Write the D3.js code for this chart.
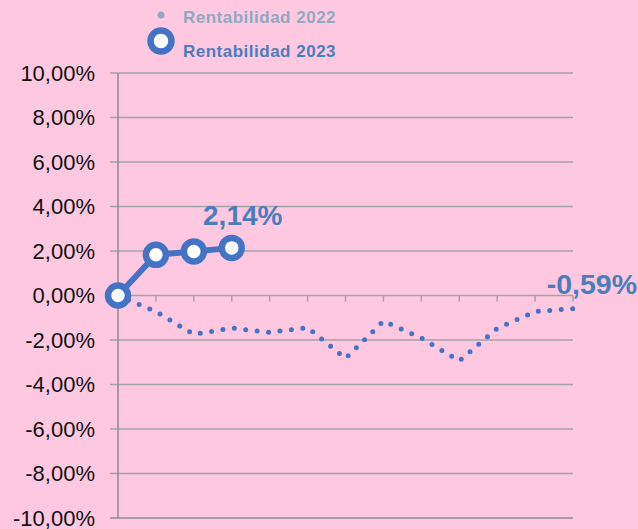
<!DOCTYPE html>
<html>
<head>
<meta charset="utf-8">
<script src="https://cdn.jsdelivr.net/npm/d3@7"></script>
<style>
  body { margin: 0; background: #ffc8e1; }
  svg { display: block; font-family: "Liberation Sans", Arial, sans-serif; }
</style>
</head>
<body>
<svg id="chart" width="638" height="529"></svg>
<script>
// categories: starting point + 12 months (not labelled on the chart)
const months = ["Inicio", "Ene", "Feb", "Mar", "Abr", "May", "Jun", "Jul", "Ago", "Sep", "Oct", "Nov", "Dic"];
const rent2022 = [0, -0.72, -1.75, -1.46, -1.66, -1.44, -2.83, -1.15, -1.91, -2.94, -1.48, -0.72, -0.59];
const rent2023 = [0, 1.83, 1.98, 2.14];
const yTicks = [10, 8, 6, 4, 2, 0, -2, -4, -6, -8, -10];

const blue = "#4472c4";
const gridColor = "#a3a3a3";

const svg = d3.select("#chart");

const x = d3.scalePoint()
  .domain(months)
  .range([118, 573]);

const y = d3.scaleLinear()
  .domain([-10, 10])
  .range([518, 73]);

const fmt = v => v.toFixed(2).replace(".", ",") + "%";

// horizontal gridlines with left tick stubs
svg.append("g")
  .selectAll("line")
  .data(yTicks)
  .join("line")
    .attr("x1", 110)
    .attr("x2", 573)
    .attr("y1", d => y(d))
    .attr("y2", d => y(d))
    .attr("stroke", d => d === -10 ? "#8c8c8c" : gridColor)
    .attr("stroke-width", 1.5);

// y labels
svg.append("g")
  .selectAll("text")
  .data(yTicks)
  .join("text")
    .attr("x", 95)
    .attr("y", d => y(d))
    .attr("dy", "0.36em")
    .attr("text-anchor", "end")
    .attr("font-size", 22)
    .attr("fill", "#111")
    .text(d => fmt(d));

// y axis line
svg.append("line")
  .attr("x1", x(months[0])).attr("x2", x(months[0]))
  .attr("y1", y(10)).attr("y2", y(-10))
  .attr("stroke", "#8c8c8c")
  .attr("stroke-width", 1.5);

// x tick marks below the zero line
svg.append("g")
  .selectAll("line")
  .data(months.slice(1))
  .join("line")
    .attr("x1", d => x(d)).attr("x2", d => x(d))
    .attr("y1", y(0)).attr("y2", y(0) + 6)
    .attr("stroke", gridColor)
    .attr("stroke-width", 1.5);

// 2022 dotted line
const lineGen = d3.line()
  .x((d, i) => x(months[i]))
  .y(d => y(d));

svg.append("path")
  .datum(rent2022)
  .attr("d", lineGen)
  .attr("fill", "none")
  .attr("stroke", blue)
  .attr("stroke-width", 5)
  .attr("stroke-linecap", "round")
  .attr("stroke-dasharray", "0 11.5");

// 2023 line with markers
svg.append("path")
  .datum(rent2023)
  .attr("d", lineGen)
  .attr("fill", "none")
  .attr("stroke", blue)
  .attr("stroke-width", 6);

svg.append("g")
  .selectAll("circle")
  .data(rent2023)
  .join("circle")
    .attr("cx", (d, i) => x(months[i]))
    .attr("cy", d => y(d))
    .attr("r", 10)
    .attr("fill", "white")
    .attr("stroke", blue)
    .attr("stroke-width", 6.5);

// data labels
const lastIdx23 = rent2023.length - 1;
svg.append("text")
  .attr("x", x(months[lastIdx23]) + 11)
  .attr("y", y(rent2023[lastIdx23]) - 23)
  .attr("text-anchor", "middle")
  .attr("font-size", 28)
  .attr("font-weight", "bold")
  .attr("fill", "#4a7ebb")
  .text(fmt(rent2023[lastIdx23]));

const lastIdx22 = rent2022.length - 1;
svg.append("text")
  .attr("x", x(months[lastIdx22]) + 64)
  .attr("y", y(rent2022[lastIdx22]) - 15)
  .attr("text-anchor", "end")
  .attr("font-size", 28.5)
  .attr("font-weight", "bold")
  .attr("fill", "#4a7ebb")
  .text(fmt(rent2022[lastIdx22]));

// legend
const legend = svg.append("g");
legend.append("circle")
  .attr("cx", 161).attr("cy", 15).attr("r", 3.5)
  .attr("fill", "#8ea9c1");
legend.append("text")
  .attr("x", 183).attr("y", 23)
  .attr("font-size", 17)
  .attr("font-weight", "bold")
  .attr("letter-spacing", 0.5)
  .attr("fill", "#8ea9c1")
  .text("Rentabilidad 2022");

legend.append("circle")
  .attr("cx", 161).attr("cy", 41).attr("r", 10.5)
  .attr("fill", "white")
  .attr("stroke", blue)
  .attr("stroke-width", 6.5);
legend.append("text")
  .attr("x", 183).attr("y", 57)
  .attr("font-size", 17)
  .attr("font-weight", "bold")
  .attr("letter-spacing", 0.5)
  .attr("fill", "#4a7ebb")
  .text("Rentabilidad 2023");
</script>
</body>
</html>
